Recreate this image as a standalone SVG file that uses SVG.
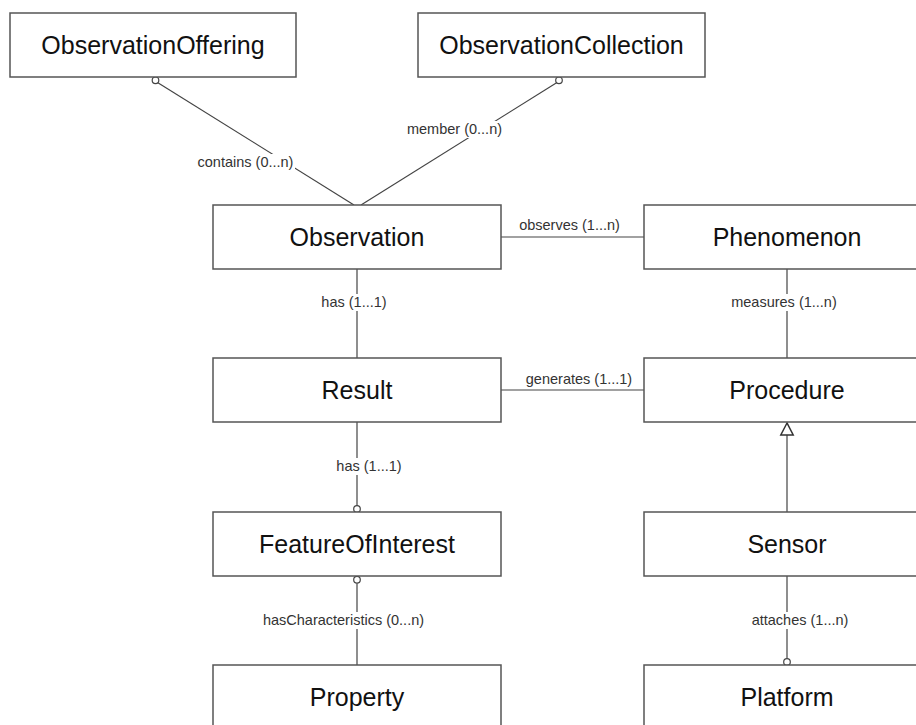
<svg xmlns="http://www.w3.org/2000/svg" width="916" height="725" viewBox="0 0 916 725">
<style>
.box{fill:#fff;stroke:#555;stroke-width:1.5}
.name{font-family:"Liberation Sans",Arial,sans-serif;font-size:25px;fill:#111;text-anchor:middle}
.lbl{font-family:"Liberation Sans",Arial,sans-serif;font-size:14.5px;fill:#333;text-anchor:middle}
.ln{stroke:#444;stroke-width:1.2;fill:none}
.bg{fill:#fff;stroke:none}
.circ{fill:#fff;stroke:#444;stroke-width:1.2}
.tri{fill:#fff;stroke:#333;stroke-width:1.5}
</style>
<rect width="916" height="725" fill="#fff"/>
<g id="connectors">
<line class="ln" x1="157.5" y1="82.5" x2="354" y2="205"/>
<line class="ln" x1="557" y1="82.5" x2="361" y2="205"/>
<line class="ln" x1="501" y1="237" x2="644" y2="237"/>
<line class="ln" x1="357" y1="269" x2="357" y2="358"/>
<line class="ln" x1="787" y1="269" x2="787" y2="358"/>
<line class="ln" x1="501" y1="390" x2="644" y2="390"/>
<line class="ln" x1="357" y1="422" x2="357" y2="506"/>
<line class="ln" x1="787" y1="435" x2="787" y2="512"/>
<line class="ln" x1="357" y1="583" x2="357" y2="665"/>
<line class="ln" x1="787" y1="576" x2="787" y2="658.5"/>
<polygon class="tri" points="787,423 780.8,435 793.2,435"/>
<circle class="circ" cx="155.5" cy="80.3" r="3.3"/>
<circle class="circ" cx="559" cy="80.3" r="3.3"/>
<circle class="circ" cx="357" cy="509" r="3.3"/>
<circle class="circ" cx="357" cy="579.7" r="3.3"/>
<circle class="circ" cx="787" cy="662" r="3.3"/>
<rect class="bg" x="196" y="154" width="99" height="17"/>
<text class="lbl" x="245.5" y="167">contains (0...n)</text>
<rect class="bg" x="405" y="121" width="99" height="17"/>
<text class="lbl" x="454.5" y="134">member (0...n)</text>
<text class="lbl" x="569.5" y="230">observes (1...n)</text>
<rect class="bg" x="319" y="294" width="70" height="17"/>
<text class="lbl" x="354" y="306.5">has (1...1)</text>
<rect class="bg" x="730" y="294" width="114" height="17"/>
<text class="lbl" x="784" y="306.5">measures (1...n)</text>
<text class="lbl" x="579" y="384">generates (1...1)</text>
<rect class="bg" x="334" y="458" width="70" height="17"/>
<text class="lbl" x="369" y="471">has (1...1)</text>
<rect class="bg" x="260" y="612" width="168" height="17"/>
<text class="lbl" x="343.5" y="625">hasCharacteristics (0...n)</text>
<rect class="bg" x="748" y="612" width="104" height="17"/>
<text class="lbl" x="800" y="625">attaches (1...n)</text>
</g>
<g id="ObservationOffering"><rect class="box" x="10" y="13" width="286" height="64"/><text class="name" x="153" y="53.5">ObservationOffering</text></g>
<g id="ObservationCollection"><rect class="box" x="418" y="13" width="287" height="64"/><text class="name" x="561.5" y="53.5">ObservationCollection</text></g>
<g id="Observation"><rect class="box" x="213" y="205" width="288" height="64"/><text class="name" x="357" y="245.5">Observation</text></g>
<g id="Phenomenon"><rect class="box" x="644" y="205" width="286" height="64"/><text class="name" x="787" y="245.5">Phenomenon</text></g>
<g id="Result"><rect class="box" x="213" y="358" width="288" height="64"/><text class="name" x="357" y="398.5">Result</text></g>
<g id="Procedure"><rect class="box" x="644" y="358" width="286" height="64"/><text class="name" x="787" y="398.5">Procedure</text></g>
<g id="FeatureOfInterest"><rect class="box" x="213" y="512" width="288" height="64"/><text class="name" x="357" y="552.5">FeatureOfInterest</text></g>
<g id="Sensor"><rect class="box" x="644" y="512" width="286" height="64"/><text class="name" x="787" y="552.5">Sensor</text></g>
<g id="Property"><rect class="box" x="213" y="665" width="288" height="64"/><text class="name" x="357" y="705.5">Property</text></g>
<g id="Platform"><rect class="box" x="644" y="665" width="286" height="64"/><text class="name" x="787" y="705.5">Platform</text></g>
</svg>
